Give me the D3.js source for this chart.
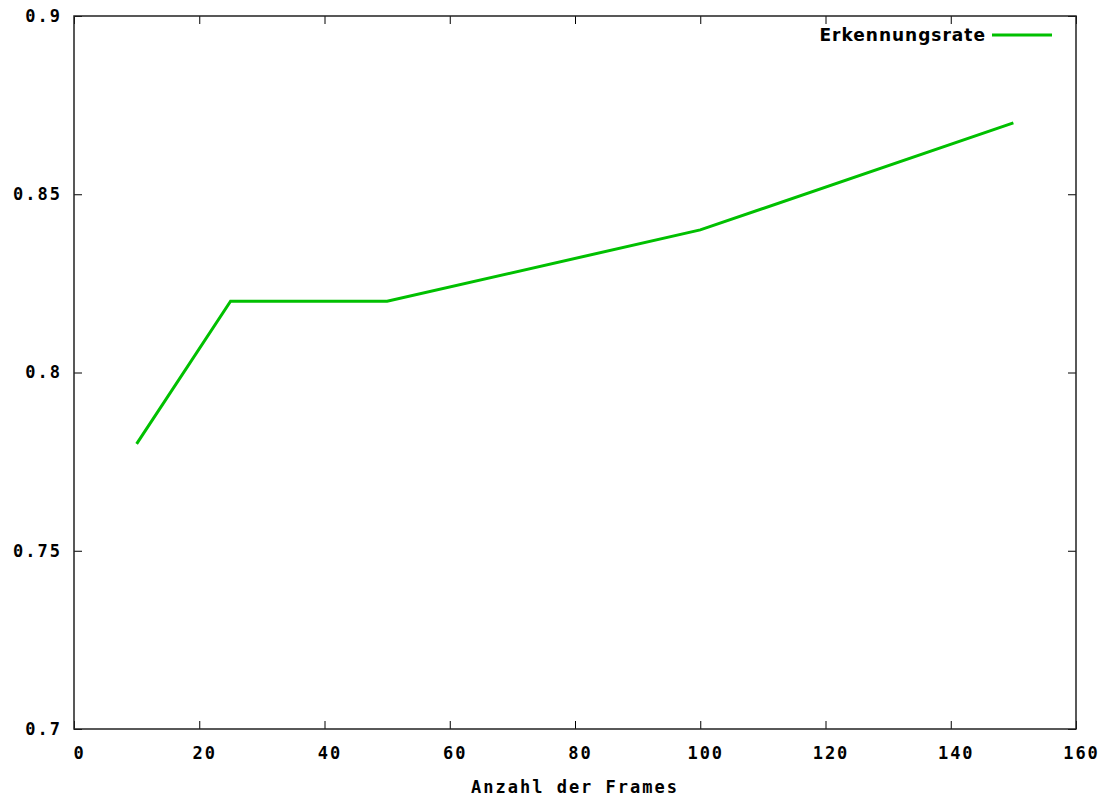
<!DOCTYPE html>
<html>
<head>
<meta charset="utf-8">
<script src="https://cdn.jsdelivr.net/npm/d3@7"></script>
<style>
  body { margin: 0; background: #fff; }
  .tick text, .lbl { font-family: "DejaVu Sans Mono", monospace; font-weight: bold; font-size: 17px; fill: #000; letter-spacing: 2px; }
</style>
</head>
<body>
<div id="chart"></div>
<script>
// data
var frames = [10, 25, 50, 100, 150];
var rates = [0.78, 0.82, 0.82, 0.84, 0.87];
var xTicks = [0, 20, 40, 60, 80, 100, 120, 140, 160];
var yTicks = [0.7, 0.75, 0.8, 0.85, 0.9];
var seriesName = "Erkennungsrate";
var xTitle = "Anzahl der Frames";

var W = 1108, H = 803;
var margin = { top: 16, right: 32, bottom: 74, left: 74 };
var width = W - margin.left - margin.right;
var height = H - margin.top - margin.bottom;

var svg = d3.select("#chart").append("svg")
  .attr("width", W)
  .attr("height", H);

var g = svg.append("g")
  .attr("transform", "translate(" + margin.left + "," + margin.top + ")");

var x = d3.scaleLinear().domain([0, 160]).range([0, width]);
var y = d3.scaleLinear().domain([0.7, 0.9]).range([height, 0]);

var fmtY = function (d) { return String(+d.toFixed(2)); };

// axes with inward ticks, mirrored on top/right like gnuplot
function styleAxis(sel) {
  sel.select(".domain").remove();
  sel.selectAll(".tick line").attr("stroke", "#000").attr("stroke-width", 1);
}

g.append("g")
  .attr("transform", "translate(0," + height + ")")
  .call(d3.axisBottom(x).tickValues(xTicks).tickSizeInner(-8).tickSizeOuter(0).tickPadding(18).tickFormat(d3.format("d")))
  .call(styleAxis)
  .selectAll(".tick text").attr("dx", 5);

g.append("g")
  .call(d3.axisTop(x).tickValues(xTicks).tickSizeInner(-8).tickSizeOuter(0).tickFormat(""))
  .call(styleAxis);

g.append("g")
  .call(d3.axisLeft(y).tickValues(yTicks).tickSizeInner(-8).tickSizeOuter(0).tickPadding(12).tickFormat(fmtY))
  .call(styleAxis);

g.append("g")
  .attr("transform", "translate(" + width + ",0)")
  .call(d3.axisRight(y).tickValues(yTicks).tickSizeInner(-8).tickSizeOuter(0).tickFormat(""))
  .call(styleAxis);

g.selectAll(".tick text").attr("font-family", null).attr("font-size", null);

// frame
g.append("rect")
  .attr("x", 0).attr("y", 0)
  .attr("width", width).attr("height", height)
  .attr("fill", "none")
  .attr("stroke", "#222")
  .attr("stroke-width", 1.5);

// series line
var line = d3.line()
  .x(function (d, i) { return x(frames[i]); })
  .y(function (d) { return y(d); });

g.append("path")
  .datum(rates)
  .attr("fill", "none")
  .attr("stroke", "#00c000")
  .attr("stroke-width", 3)
  .attr("d", line);

// legend
g.append("text")
  .attr("x", 912)
  .attr("y", 19)
  .attr("text-anchor", "end")
  .attr("dy", "0.35em")
  .style("font-family", "'DejaVu Sans', sans-serif")
  .style("font-weight", "bold")
  .style("font-size", "17px")
  .style("letter-spacing", "1px")
  .text(seriesName);

g.append("line")
  .attr("x1", 918).attr("x2", 978)
  .attr("y1", 19).attr("y2", 19)
  .attr("stroke", "#00c000")
  .attr("stroke-width", 3);

// x axis title
svg.append("text")
  .attr("class", "lbl")
  .attr("x", margin.left + width / 2)
  .attr("y", 787)
  .attr("dy", "0.35em")
  .attr("text-anchor", "middle")
  .text(xTitle);
</script>
</body>
</html>
